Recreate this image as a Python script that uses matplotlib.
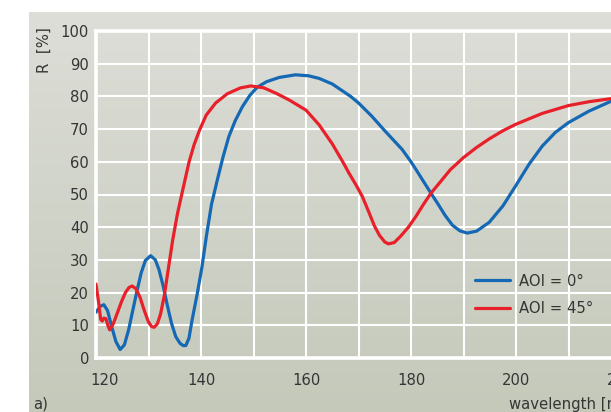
import numpy as np
import matplotlib
matplotlib.use("Agg")
import matplotlib.pyplot as plt
import matplotlib.transforms as mtransforms
from matplotlib import font_manager as fm
from matplotlib.textpath import TextPath

# Reflectance spectra, wavelength in nm, R in %
wl_0 = [120.0, 120.8, 121.5, 122.2, 123.0, 123.8, 124.6, 125.4, 126.2, 127.0,
        127.8, 128.6, 129.4, 130.4, 131.3, 132.0, 132.8, 133.6, 134.4, 135.2,
        136.0, 136.6, 137.1, 137.7, 138.3, 139.3, 140.2, 141.0, 142.0, 143.1,
        144.2, 145.3, 146.5, 147.9, 149.3, 150.7, 152.5, 154.9, 158.0, 160.5,
        162.5, 165.0, 168.5, 170.0, 172.5, 175.0, 178.3, 180.0, 181.0, 183.8,
        185.3, 186.5, 187.9, 189.3, 190.7, 192.5, 194.9, 197.5, 200.0, 202.5,
        205.0, 207.5, 210.0, 213.9, 218.5]
r_0 = [14.0, 15.8, 16.3, 14.5, 9.5, 5.0, 2.6, 4.0, 8.5, 14.5,
       20.5, 26.0, 29.8, 31.3, 30.0, 27.0, 22.0, 16.0, 10.5, 6.5,
       4.5, 3.8, 3.8, 6.0, 11.6, 19.8, 28.0, 37.0, 47.0, 54.4,
       61.5, 67.7, 72.5, 76.9, 80.3, 82.8, 84.5, 85.8, 86.6, 86.3,
       85.5, 83.8, 80.0, 78.0, 74.0, 69.5, 63.8, 60.0, 57.5, 50.4,
       46.7, 43.6, 40.6, 38.9, 38.2, 38.8, 41.5, 46.5, 52.8, 59.3,
       64.8, 69.0, 72.0, 75.5, 78.8]

wl_45 = [120.0, 120.5, 120.9, 121.2, 121.5, 121.9, 122.3, 122.6, 123.3, 124.0,
         124.8, 125.6, 126.3, 126.9, 127.6, 128.4, 129.2, 130.0, 130.6, 131.1,
         131.7, 132.3, 133.0, 133.8, 134.6, 135.5, 136.3, 137.0, 137.7, 138.7,
         139.75, 141.0, 142.8, 145.0, 147.5, 149.5, 152.0, 154.5, 156.8, 160.0,
         162.5, 165.0, 167.0, 168.2, 169.5, 170.7, 172.0, 173.0, 174.0, 175.0,
         175.7, 176.8, 178.0, 179.5, 180.9, 182.3, 183.8, 185.3, 187.5, 190.0,
         192.5, 194.9, 197.5, 200.0, 205.0, 210.0, 214.0, 218.5]
r_45 = [22.6, 17.0, 11.8, 11.3, 12.2, 12.0, 9.8, 8.6, 10.5, 13.5,
        17.0, 20.0, 21.6, 22.0, 21.2, 18.5, 14.5, 11.0, 9.6, 9.4,
        10.5, 13.5, 19.0, 27.5, 36.0, 44.0, 49.8, 54.8, 59.8, 65.3,
        69.8, 74.3, 78.0, 80.8, 82.6, 83.2, 82.6, 80.8, 78.9, 75.8,
        71.3, 65.5, 60.0, 56.5, 53.0, 49.5, 44.5, 40.5, 37.5, 35.5,
        34.9, 35.3, 37.2, 40.0, 43.2, 46.8, 50.4, 53.3, 57.6, 61.3,
        64.4, 67.0, 69.5, 71.5, 74.8, 77.2, 78.4, 79.4]

labels = ['AOI = 0°', 'AOI = 45°']
colors = ['#1468b4', '#e8202a']
text_col = '#353535'


def pick_font():
    # prefer a narrow/condensed regular sans if one is installed
    for f in fm.fontManager.ttflist:
        name = f.name.lower()
        narrow = ('narrow' in name or 'condensed' in name
                  or 'condensed' in str(f.stretch))
        if narrow and f.style == 'normal' and f.weight in (400, 'normal', 'regular') \
                and 'mono' not in name and 'serif' not in name.replace('sans', ''):
            return fm.FontProperties(fname=f.fname)
    return fm.FontProperties(family='Roboto')


fp = pick_font()
# size the font so "100" is about 26 px wide
w100 = TextPath((0, 0), '100', size=10, prop=fp).get_extents().width * 100 / 72
fs = float(np.clip(10 * 25.7 / w100, 10.5, 13.0))

W, H = 611, 412
fig = plt.figure(figsize=(W / 100, H / 100), dpi=100)
fig.patch.set_facecolor('white')

# grey panel with a soft vertical gradient
bg = fig.add_axes([29 / W, 0, 1 - 29 / W, 1 - 12 / H], zorder=0)
top = np.array([221, 222, 216]) / 255
bot = np.array([196, 201, 186]) / 255
t = np.linspace(0, 1, 256)[:, None]
grad = (top * (1 - t) + bot * t)[:, None, :]
bg.imshow(grad, aspect='auto', extent=[0, 1, 0, 1], interpolation='bilinear')
bg.axis('off')

# plot area: 5.25 px per nm, 3.27 px per %
x0, x1 = 120, 226
ax = fig.add_axes([96 / W, 1 - 358 / H, (x1 - x0) * 5.25 / W, 327 / H], zorder=1)
ax.patch.set_alpha(0)
ax.set_xlim(x0, x1)
ax.set_ylim(0, 100)

ax.plot(wl_0, r_0, color=colors[0], lw=2.3, label=labels[0],
        solid_joinstyle='round', solid_capstyle='round', zorder=3)
ax.plot(wl_45, r_45, color=colors[1], lw=2.3, label=labels[1],
        solid_joinstyle='round', solid_capstyle='round', zorder=3)

ax.set_xticks(np.arange(120, 221, 20))
ax.set_xticks(np.arange(130, 221, 20), minor=True)
ax.set_yticks(np.arange(0, 101, 10))
ax.grid(True, which='both', color='white', lw=1.5)
ax.set_axisbelow(True)
for side in ['top', 'bottom', 'left']:
    ax.spines[side].set_color('white')
    ax.spines[side].set_linewidth(2.6)
ax.spines['right'].set_visible(False)

ax.tick_params(which='both', length=0, labelcolor=text_col)
ax.tick_params(axis='y', pad=5)
ax.tick_params(axis='x', pad=11)
for lab in ax.get_xticklabels() + ax.get_yticklabels():
    lab.set_fontproperties(fp)
    lab.set_fontsize(fs)

# nudge the first x label off the y axis
first = ax.get_xticklabels()[0]
first.set_transform(first.get_transform() +
                    mtransforms.ScaledTranslation(0.08, 0, fig.dpi_scale_trans))

fig.text(44 / W, 1 - 50 / H, 'R  [%]', rotation=90, ha='center', va='center',
         fontproperties=fp, fontsize=fs, color=text_col)
fig.text(509 / W, 1 - 404 / H, 'wavelength [nm]', ha='left', va='center',
         fontproperties=fp, fontsize=fs, color=text_col)
fig.text(33 / W, 1 - 404 / H, 'a)', ha='left', va='center',
         fontproperties=fp, fontsize=fs, color=text_col)

leg_fp = fp.copy()
leg_fp.set_size(fs)
leg = fig.legend(loc='upper left', bbox_to_anchor=(475 / W, 1 - 274 / H),
                 frameon=False, prop=leg_fp, handlelength=2.1,
                 handletextpad=0.55, labelspacing=0.75, borderpad=0,
                 borderaxespad=0)
for txt in leg.get_texts():
    txt.set_color(text_col)

fig.savefig('out.png', dpi=100)
